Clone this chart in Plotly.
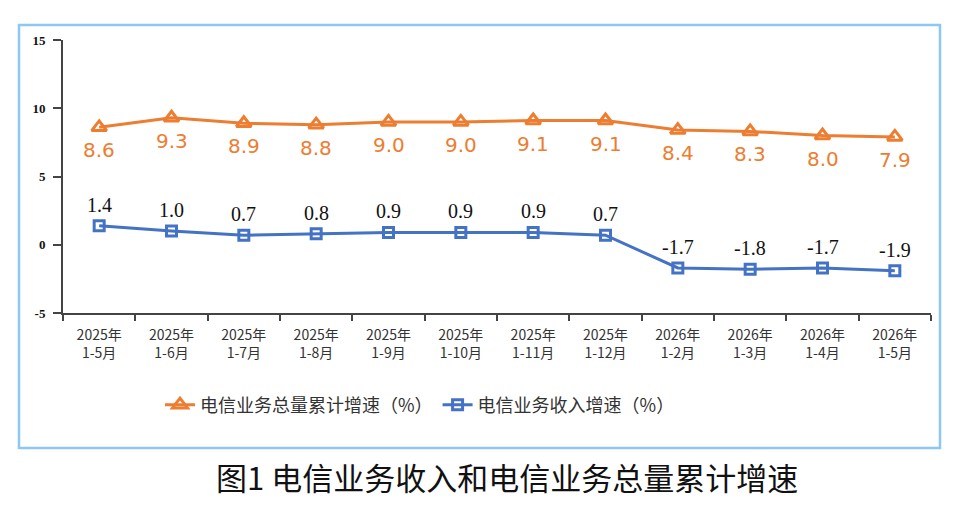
import plotly.graph_objects as go

categories = ["2025年<br>1-5月", "2025年<br>1-6月", "2025年<br>1-7月", "2025年<br>1-8月",
              "2025年<br>1-9月", "2025年<br>1-10月", "2025年<br>1-11月", "2025年<br>1-12月",
              "2026年<br>1-2月", "2026年<br>1-3月", "2026年<br>1-4月", "2026年<br>1-5月"]
volume_growth = [8.6, 9.3, 8.9, 8.8, 9.0, 9.0, 9.1, 9.1, 8.4, 8.3, 8.0, 7.9]
revenue_growth = [1.4, 1.0, 0.7, 0.8, 0.9, 0.9, 0.9, 0.7, -1.7, -1.8, -1.7, -1.9]
y_ticks = [-5, 0, 5, 10, 15]

ORANGE = "#ED7D31"
BLUE = "#4472C4"
SERIF = "Liberation Serif, Times New Roman, serif"
CJK = "Noto Sans CJK SC, sans-serif"

fig = go.Figure()
fig.add_trace(go.Scatter(
    x=categories, y=volume_growth, name="电信业务总量累计增速（%）",
    mode="lines+markers",
    line=dict(color=ORANGE, width=3),
    marker=dict(symbol="triangle-up-open", size=13, color=ORANGE, line=dict(width=3, color=ORANGE)),
))
fig.add_trace(go.Scatter(
    x=categories, y=revenue_growth, name="电信业务收入增速（%）",
    mode="lines+markers",
    line=dict(color=BLUE, width=3),
    marker=dict(symbol="square-open", size=10, color=BLUE, line=dict(width=3, color=BLUE)),
))

for c, v in zip(categories, volume_growth):
    fig.add_annotation(x=c, y=v, text=f"{v:.1f}", showarrow=False, yshift=-23,
                       font=dict(family="DejaVu Sans, sans-serif", size=20, color=ORANGE))
for c, v in zip(categories, revenue_growth):
    fig.add_annotation(x=c, y=v, text=f"{v:.1f}", showarrow=False, yshift=21,
                       font=dict(family=SERIF, size=20, color="#111111"))

# plot geometry
L, R, T, B = 63, 36, 40, 196
W, H = 967, 509
pw, ph = W - L - R, H - T - B

def px_x(p):
    return (p - L) / pw

def px_y(p):
    return (H - B - p) / ph

fig.add_shape(type="rect", xref="paper", yref="paper",
              x0=px_x(19), x1=px_x(940), y0=px_y(448), y1=px_y(25),
              line=dict(color="#8CC8F5", width=2.5), fillcolor="rgba(0,0,0,0)", layer="below")

fig.add_annotation(text="图1 电信业务收入和电信业务总量累计增速", xref="paper", yref="paper",
                   x=px_x(507), y=px_y(476), showarrow=False, xanchor="center", yanchor="middle",
                   font=dict(family="Noto Sans CJK SC", size=31, color="#111111"))

fig.update_layout(
    width=W, height=H, margin=dict(l=L, r=R, t=T, b=B),
    paper_bgcolor="white", plot_bgcolor="white",
    showlegend=True,
    legend=dict(orientation="h", x=px_x(160), y=px_y(405), xanchor="left", yanchor="middle",
                font=dict(family="Noto Sans CJK SC", size=18, color="#333333"),
                itemwidth=30, traceorder="normal", bgcolor="rgba(0,0,0,0)"),
)
fig.update_xaxes(
    type="category", range=[-0.5, len(categories) - 0.5],
    showline=True, linecolor="#444444", linewidth=2,
    ticks="outside", tickson="boundaries", ticklen=6, tickcolor="#444444", tickwidth=1.5,
    tickfont=dict(family=CJK, size=14, color="#333333"),
    ticklabelstandoff=8,
    showgrid=False, zeroline=False,
)
fig.update_yaxes(
    range=[-5, 15], tickvals=y_ticks, ticktext=[f"<b>{v}</b>" for v in y_ticks],
    showline=True, linecolor="#444444", linewidth=2,
    ticks="outside", ticklen=8, tickcolor="#444444", tickwidth=1.5,
    ticklabelstandoff=5,
    tickfont=dict(family=SERIF, size=13, color="#111111"),
    showgrid=False, zeroline=False,
)
fig.write_html("out.html")
